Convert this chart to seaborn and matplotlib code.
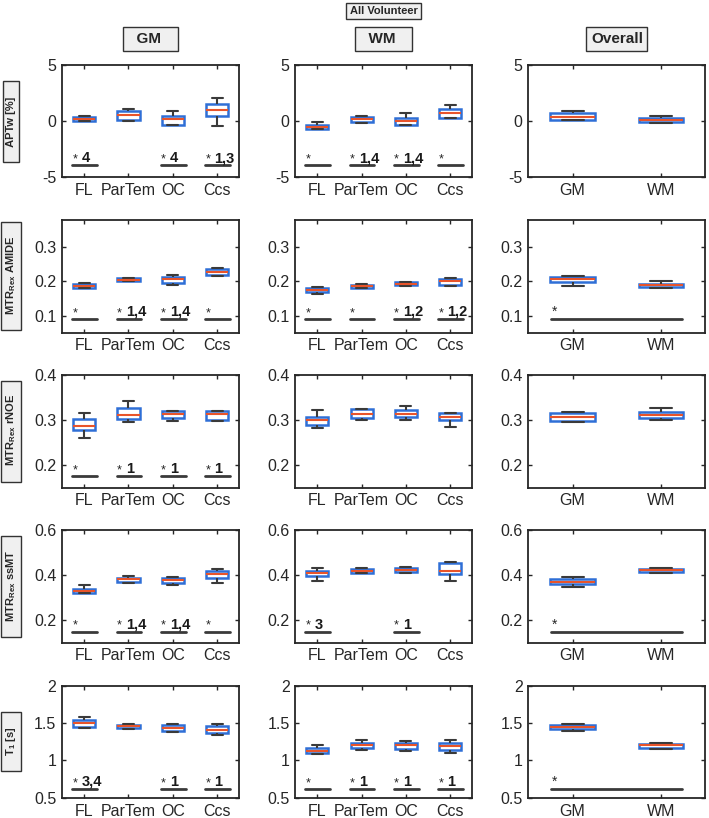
import numpy as np
import pandas as pd
import matplotlib.pyplot as plt
import seaborn as sns

regions = ["FL", "ParTem", "OC", "Ccs"]
tissues = ["GM", "WM"]
col_titles = ["GM", "WM", "Overall"]
row_labels = ["APTw [%]", r"MTR$_{\mathbf{Rex}}$ AMIDE", r"MTR$_{\mathbf{Rex}}$ rNOE",
              r"MTR$_{\mathbf{Rex}}$ ssMT", r"T$_{\mathbf{1}}$ [s]"]

# box summaries: [whisker low, q1, median, q3, whisker high]
apt_gm = [[0.00, 0.05, 0.22, 0.40, 0.45], [0.05, 0.10, 0.54, 0.87, 1.05],
          [-0.35, -0.30, 0.20, 0.45, 0.90], [-0.40, 0.50, 1.00, 1.50, 2.07]]
apt_wm = [[-0.70, -0.66, -0.48, -0.30, -0.10], [-0.12, -0.10, 0.20, 0.42, 0.50],
          [-0.33, -0.30, 0.03, 0.33, 0.70], [0.30, 0.32, 0.70, 1.05, 1.45]]
apt_all = [[0.10, 0.12, 0.40, 0.70, 0.90], [-0.20, -0.10, 0.10, 0.30, 0.50]]

amide_gm = [[0.180, 0.182, 0.187, 0.193, 0.195], [0.200, 0.201, 0.205, 0.209, 0.210],
            [0.191, 0.195, 0.206, 0.213, 0.218], [0.215, 0.219, 0.227, 0.236, 0.241]]
amide_wm = [[0.164, 0.168, 0.174, 0.181, 0.185], [0.180, 0.182, 0.186, 0.191, 0.193],
            [0.188, 0.190, 0.194, 0.197, 0.199], [0.188, 0.191, 0.200, 0.208, 0.210]]
amide_all = [[0.187, 0.198, 0.206, 0.213, 0.216], [0.181, 0.184, 0.189, 0.193, 0.200]]

rnoe_gm = [[0.261, 0.278, 0.287, 0.302, 0.316], [0.296, 0.302, 0.311, 0.328, 0.342],
           [0.299, 0.305, 0.313, 0.320, 0.321], [0.298, 0.300, 0.315, 0.320, 0.321]]
rnoe_wm = [[0.282, 0.289, 0.301, 0.308, 0.322], [0.300, 0.304, 0.314, 0.324, 0.326],
           [0.300, 0.307, 0.315, 0.322, 0.331], [0.286, 0.300, 0.308, 0.316, 0.317]]
rnoe_all = [[0.296, 0.298, 0.307, 0.317, 0.318], [0.301, 0.304, 0.311, 0.319, 0.327]]

ssmt_gm = [[0.321, 0.322, 0.332, 0.341, 0.358], [0.368, 0.370, 0.382, 0.389, 0.397],
           [0.356, 0.364, 0.379, 0.389, 0.391], [0.364, 0.389, 0.405, 0.418, 0.429]]
ssmt_wm = [[0.376, 0.396, 0.409, 0.420, 0.433], [0.409, 0.412, 0.421, 0.430, 0.432],
           [0.410, 0.415, 0.426, 0.433, 0.438], [0.377, 0.405, 0.421, 0.456, 0.459]]
ssmt_all = [[0.350, 0.360, 0.372, 0.385, 0.392], [0.410, 0.415, 0.422, 0.430, 0.435]]

t1_gm = [[1.430, 1.445, 1.500, 1.536, 1.586], [1.423, 1.427, 1.455, 1.477, 1.486],
         [1.377, 1.390, 1.440, 1.477, 1.486], [1.340, 1.373, 1.410, 1.455, 1.486]]
t1_wm = [[1.080, 1.100, 1.130, 1.170, 1.200], [1.140, 1.170, 1.200, 1.240, 1.270],
         [1.120, 1.150, 1.200, 1.240, 1.260], [1.100, 1.140, 1.190, 1.240, 1.270]]
t1_all = [[1.400, 1.420, 1.450, 1.480, 1.490], [1.150, 1.170, 1.200, 1.220, 1.240]]

# significance marks ("" = star only, None = no mark)
apt_sig = [["4", None, "4", "1,3"], ["", "1,4", "1,4", ""], None]
amide_sig = [["", "1,4", "1,4", ""], ["", "", "1,2", "1,2"], ""]
rnoe_sig = [["", "1", "1", "1"], [None, None, None, None], None]
ssmt_sig = [["", "1,4", "1,4", ""], ["3", None, "1", None], ""]
t1_sig = [["3,4", None, "1", "1"], ["", "1", "1", "1"], ""]
sig_levels = [-3.9, 0.09, 0.175, 0.15, 0.62]

ylims = [(-5, 5), (0.05, 0.38), (0.15, 0.4), (0.1, 0.6), (0.5, 2)]
yticks = [[-5, 0, 5], [0.1, 0.2, 0.3], [0.2, 0.3, 0.4], [0.2, 0.4, 0.6], [0.5, 1, 1.5, 2]]

rows = [(apt_gm, apt_wm, apt_all, apt_sig), (amide_gm, amide_wm, amide_all, amide_sig),
        (rnoe_gm, rnoe_wm, rnoe_all, rnoe_sig), (ssmt_gm, ssmt_wm, ssmt_all, ssmt_sig),
        (t1_gm, t1_wm, t1_all, t1_sig)]

BLUE = "#2f6fd6"
RED = "#e8542b"
DARK = "#3a3a3a"

sns.set_theme(style="ticks")
plt.rcParams["font.family"] = ["Liberation Sans", "DejaVu Sans"]
plt.rcParams["mathtext.fontset"] = "custom"
plt.rcParams["mathtext.rm"] = "Liberation Sans"
plt.rcParams["mathtext.bf"] = "Liberation Sans:bold"
plt.rcParams["axes.unicode_minus"] = False

fig, axes = plt.subplots(5, 3, figsize=(7.09, 8.18), dpi=100)
fig.subplots_adjust(left=0.0875, right=0.995, top=0.9205, bottom=0.0245,
                    wspace=0.316, hspace=0.38)


def draw_box(ax, cats, stats):
    df = pd.DataFrame([(c, v) for c, s in zip(cats, stats) for v in s],
                      columns=["cat", "value"])
    sns.boxplot(data=df, x="cat", y="value", order=cats, ax=ax, whis=(0, 100),
                width=0.5, color="white", saturation=1, linewidth=1.5,
                showfliers=False,
                boxprops=dict(edgecolor=BLUE, facecolor="white", linewidth=1.8),
                medianprops=dict(color=RED, linewidth=1.5),
                whiskerprops=dict(color=DARK, linewidth=1.5),
                capprops=dict(color=DARK, linewidth=1.5))


def draw_sig(ax, labels, level, overall=False):
    if overall:
        ax.plot([-0.24, 1.24], [level, level], color=DARK, lw=2)
        ax.text(-0.2, level, "*", ha="center", va="bottom", fontsize=10)
        return
    for i, lab in enumerate(labels):
        if lab is None:
            continue
        ax.plot([i - 0.27, i + 0.29], [level, level], color=DARK, lw=2)
        ax.text(i - 0.21, level, "*", ha="center", va="bottom", fontsize=9)
        if lab:
            ax.text(i - 0.06, level, lab, ha="left", va="bottom",
                    fontsize=10.5, fontweight="bold", color="#1a1a1a")


for r, (gm, wm, al, sig) in enumerate(rows):
    for c, (cats, stats) in enumerate([(regions, gm), (regions, wm), (tissues, al)]):
        ax = axes[r, c]
        draw_box(ax, cats, stats)
        if c < 2:
            draw_sig(ax, sig[c], sig_levels[r])
        elif sig[2] is not None:
            draw_sig(ax, None, sig_levels[r], overall=True)
        ax.set_xlabel("")
        ax.set_ylabel("")
        ax.set_ylim(*ylims[r])
        ax.set_yticks(yticks[r])
        ax.set_yticklabels([f"{t:g}" for t in yticks[r]])
        ax.set_xlim(-0.5, len(cats) - 0.5)
        ax.tick_params(direction="in", top=True, right=True, length=3, width=1,
                       labelsize=11.5, colors="#262626", pad=4)
        for sp in ax.spines.values():
            sp.set_visible(True)
            sp.set_color("#262626")
            sp.set_linewidth(1.3)

box_kw = dict(boxstyle="square,pad=0.3", facecolor="#f0f0f0", edgecolor="#333333", lw=1)
for c, title in enumerate(col_titles):
    pos = axes[0, c].get_position()
    pad = {"GM": "  GM   ", "WM": "  WM   ", "Overall": "Overall"}[title]
    fig.text((pos.x0 + pos.x1) / 2, 1 - 39 / 818, pad, ha="center", va="center",
             fontsize=11, fontweight="bold", bbox=box_kw)
pos = axes[0, 1].get_position()
fig.text((pos.x0 + pos.x1) / 2, 1 - 11 / 818, "All Volunteer", ha="center", va="center",
         fontsize=8, fontweight="bold", bbox=box_kw)
for r, lab in enumerate(row_labels):
    pos = axes[r, 0].get_position()
    fig.text(11 / 709, (pos.y0 + pos.y1) / 2, "    " + lab + "    ", ha="center",
             va="center", rotation=90, fontsize=8, fontweight="bold", bbox=box_kw)

fig.savefig("out.png", dpi=100)
